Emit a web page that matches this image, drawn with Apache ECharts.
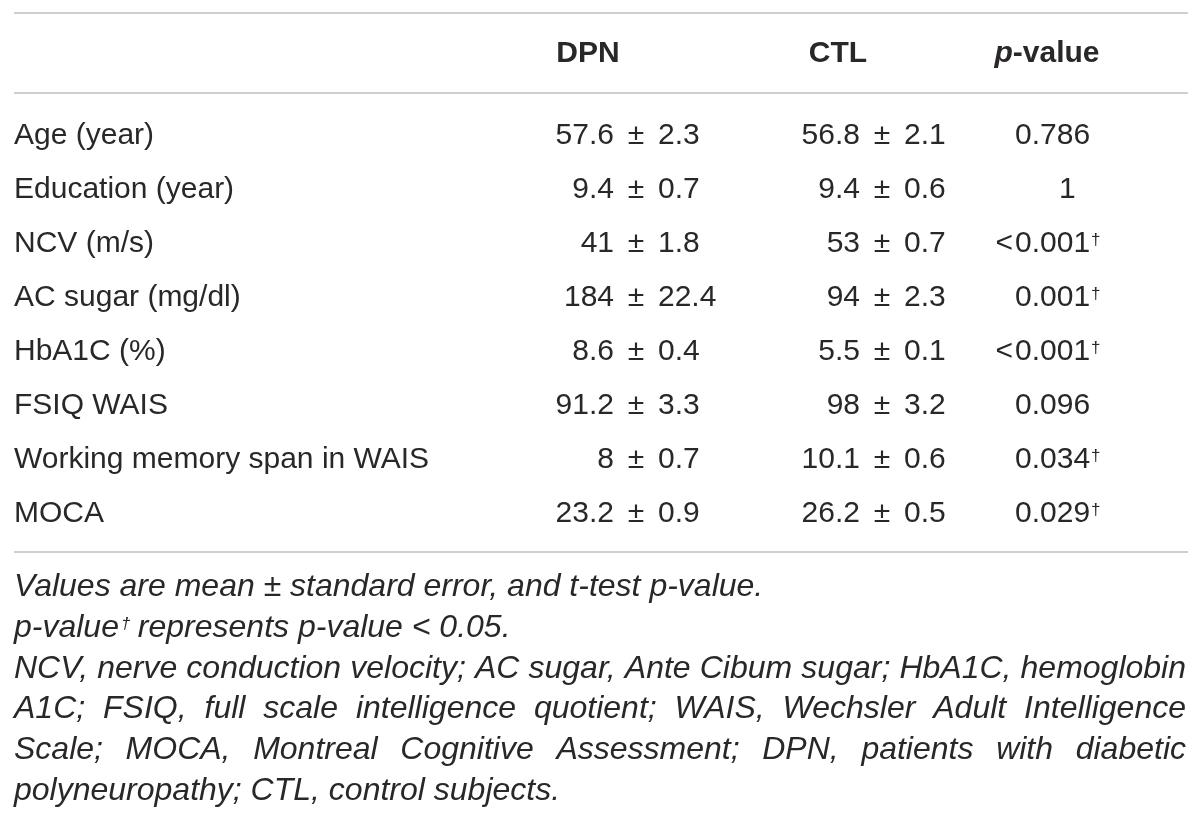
<!DOCTYPE html>
<html>
<head>
<meta charset="utf-8">
<script src="https://cdn.jsdelivr.net/npm/echarts@6/dist/echarts.min.js"></script>
<style>
html,body{margin:0;padding:0;background:#fff;}
#chart{width:1200px;height:827px;}
</style>
</head>
<body>
<div id="chart"></div>
<script>
// ---- data ----
const headers = ['DPN', 'CTL', 'p-value'];
const rowLabels = ['Age (year)', 'Education (year)', 'NCV (m/s)', 'AC sugar (mg/dl)', 'HbA1C (%)', 'FSIQ WAIS', 'Working memory span in WAIS', 'MOCA'];
const dpnMean = ['57.6', '9.4', '41', '184', '8.6', '91.2', '8', '23.2'];
const dpnSE   = ['2.3', '0.7', '1.8', '22.4', '0.4', '3.3', '0.7', '0.9'];
const ctlMean = ['56.8', '9.4', '53', '94', '5.5', '98', '10.1', '26.2'];
const ctlSE   = ['2.1', '0.6', '0.7', '2.3', '0.1', '3.2', '0.6', '0.5'];
const pValues = ['0.786', '1', '<0.001', '0.001', '<0.001', '0.096', '0.034', '0.029'];
const significant = [false, false, true, true, true, false, true, true];
const footnoteLines = [
  'Values are mean \u00B1 standard error, and t-test p-value.',
  'p-value\u2020 represents p-value < 0.05.',
  'NCV, nerve conduction velocity; AC sugar, Ante Cibum sugar; HbA1C, hemoglobin',
  'A1C; FSIQ, full scale intelligence quotient; WAIS, Wechsler Adult Intelligence',
  'Scale; MOCA, Montreal Cognitive Assessment; DPN, patients with diabetic',
  'polyneuropathy; CTL, control subjects.'
];
const justified = [false, false, true, true, true, false];

// ---- layout ----
const FAMILY = '"Liberation Sans", Arial, Helvetica, sans-serif';
const TXT = '#2a2728';
const BODY_SIZE = 30;
const NOTE_SIZE = 32;
const LEFT = 14, RIGHT = 1186;
const DPN_PM = 636, CTL_PM = 882, PM_GAP = 22;
const P_X = 1015;

const mctx = document.createElement('canvas').getContext('2d');
function measure(text, size, style) {
  mctx.font = (style || 'normal') + ' normal ' + size + 'px ' + FAMILY;
  return mctx.measureText(text).width;
}

function txt(x, y, text, opts) {
  opts = opts || {};
  return {
    type: 'text', x: x, y: y, silent: true,
    style: {
      text: text,
      fill: TXT,
      fontFamily: FAMILY,
      fontSize: opts.size || BODY_SIZE,
      fontWeight: opts.weight || 'normal',
      fontStyle: opts.style || 'normal',
      align: opts.align || 'left',
      verticalAlign: opts.va || 'middle'
    }
  };
}

const chart = echarts.init(document.getElementById('chart'), null, {renderer: 'canvas'});

function renderRow(params, api) {
  const i = params.dataIndex;
  const y = api.coord([0, i])[1] + 2;
  const X = v => api.coord([v, i])[0];
  const kids = [];
  kids.push(txt(X(LEFT), y, rowLabels[i]));
  // DPN
  kids.push(txt(X(DPN_PM - PM_GAP), y, dpnMean[i], {align: 'right'}));
  kids.push(txt(X(DPN_PM), y, '\u00B1', {align: 'center'}));
  kids.push(txt(X(DPN_PM + PM_GAP), y, dpnSE[i], {align: 'left'}));
  // CTL
  kids.push(txt(X(CTL_PM - PM_GAP), y, ctlMean[i], {align: 'right'}));
  kids.push(txt(X(CTL_PM), y, '\u00B1', {align: 'center'}));
  kids.push(txt(X(CTL_PM + PM_GAP), y, ctlSE[i], {align: 'left'}));
  // p-value
  let p = pValues[i];
  let endX;
  if (p.indexOf('.') < 0) {
    kids.push(txt(X(P_X + 44), y, p, {align: 'left'}));
    endX = P_X + 44 + measure(p, BODY_SIZE);
  } else {
    if (p[0] === '<') {
      kids.push(txt(X(P_X - 2), y, '<', {align: 'right'}));
      p = p.slice(1);
    }
    kids.push(txt(X(P_X), y, p, {align: 'left'}));
    endX = P_X + measure(p, BODY_SIZE);
  }
  if (significant[i]) {
    kids.push(txt(X(endX + 1), y - 12, '\u2020', {size: 17, va: 'top'}));
  }
  return {type: 'group', children: kids};
}

// header + rules + footnotes
const graphics = [];
const RULE = {stroke: '#cfcfcf', lineWidth: 2};
[13, 93, 552].forEach(yy => graphics.push({type: 'line', silent: true, shape: {x1: 14, y1: yy, x2: 1188, y2: yy}, style: RULE}));
const HEAD_Y = 54;
graphics.push(txt(588, HEAD_Y, headers[0], {weight: 'bold', align: 'center'}));
graphics.push(txt(838, HEAD_Y, headers[1], {weight: 'bold', align: 'center'}));
{
  const h = headers[2];
  const pW = measure('p', BODY_SIZE, 'italic bold');
  const restW = measure(h.slice(1), BODY_SIZE, 'bold');
  const x0 = 1047 - (pW + restW) / 2;
  graphics.push(txt(x0, HEAD_Y, h[0], {weight: 'bold', style: 'italic'}));
  graphics.push(txt(x0 + pW, HEAD_Y, h.slice(1), {weight: 'bold'}));
}

const noteY = [585, 626, 667, 707, 748, 789];
footnoteLines.forEach((line, k) => {
  const y = noteY[k] + 2;
  const o = {size: NOTE_SIZE, style: 'italic'};
  if (justified[k]) {
    const words = line.split(' ');
    const widths = words.map(w => measure(w, NOTE_SIZE, 'italic'));
    const total = widths.reduce((a, b) => a + b, 0);
    const gap = (RIGHT - LEFT - total) / (words.length - 1);
    let x = LEFT;
    words.forEach((w, j) => { graphics.push(txt(x, y, w, o)); x += widths[j] + gap; });
  } else if (line.indexOf('\u2020') >= 0) {
    const parts = line.split('\u2020');
    graphics.push(txt(LEFT, y, parts[0], o));
    const w0 = measure(parts[0], NOTE_SIZE, 'italic');
    graphics.push(txt(LEFT + w0 + 2, y - 12, '\u2020', {size: 17, style: 'italic', va: 'top'}));
    graphics.push(txt(LEFT + w0 + 10, y, parts[1], o));
  } else {
    graphics.push(txt(LEFT, y, line, o));
  }
});

chart.setOption({
  animation: false,
  grid: {left: 0, right: 0, top: 107, height: 432},
  xAxis: {type: 'value', min: 0, max: 1200, show: false},
  yAxis: {type: 'category', data: rowLabels, inverse: true, show: false},
  graphic: graphics,
  series: [{
    type: 'custom',
    data: rowLabels.map((_, i) => [0, i]),
    renderItem: renderRow,
    silent: true
  }]
});
</script>
</body>
</html>
